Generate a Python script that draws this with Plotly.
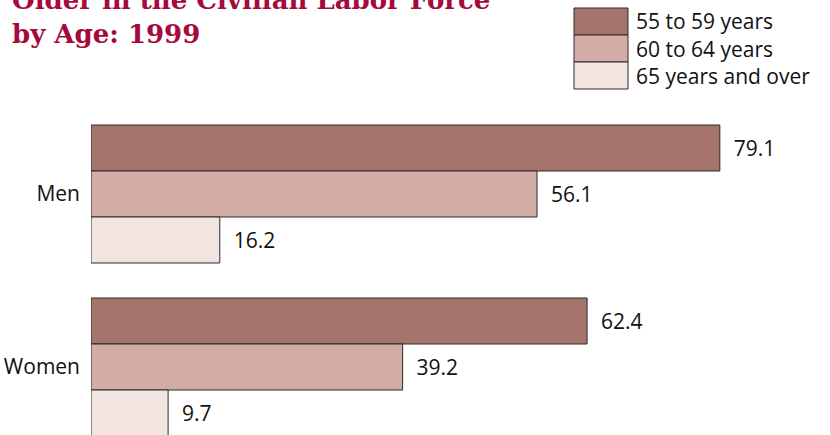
import plotly.graph_objects as go

categories = ["Men", "Women"]
series_names = ["55 to 59 years", "60 to 64 years", "65 years and over"]
values_55_59 = [79.1, 62.4]
values_60_64 = [56.1, 39.2]
values_65_over = [16.2, 9.7]
colors = ["#A5756B", "#D3ADA5", "#F2E4E1"]
title_lines = ["Older in the Civilian Labor Force", "by Age: 1999"]

W, H = 830, 435
ML, MR, MT, MB = 91, 0, 100, 0
PW, PH = W - ML - MR, H - MT - MB
FONT = "Open Sans"
FS = 21

def px_x(p):
    return (p - ML) / PW

def px_y(p):
    return (H - MB - p) / PH

NB = "\u00a0"
series = [values_55_59, values_60_64, values_65_over]
fig = go.Figure()
for name, vals, col in zip(series_names, series, colors):
    fig.add_trace(go.Bar(
        y=categories, x=vals, name=name, orientation="h",
        marker=dict(color=col, line=dict(color="#2a2a2a", width=1)),
        text=[NB * 2 + f"{v:.1f}" for v in vals],
        textposition="outside",
        textfont=dict(family=FONT, size=FS, color="#111"),
        cliponaxis=False,
        showlegend=False,
    ))

# legend drawn as boxes + labels
box_top = 8
box_h = 27
for i, (name, col) in enumerate(zip(series_names, colors)):
    y0 = box_top + i * box_h
    fig.add_shape(type="rect", xref="paper", yref="paper",
                  x0=px_x(574), x1=px_x(628), y0=px_y(y0), y1=px_y(y0 + box_h),
                  fillcolor=col, line=dict(color="#2a2a2a", width=1))
    fig.add_annotation(xref="paper", yref="paper", x=px_x(634), y=px_y(y0 + box_h / 2),
                       xanchor="left", yanchor="middle", text=name, showarrow=False,
                       font=dict(family=FONT, size=FS, color="#111"))

fig.add_annotation(xref="paper", yref="paper", x=px_x(10), y=px_y(51),
                   xanchor="left", yanchor="bottom", align="left",
                   text="<b>" + "<br>".join(title_lines) + "</b>", showarrow=False,
                   font=dict(family="DejaVu Serif", size=26, color="#A6093D"))

fig.update_layout(
    width=W, height=H,
    margin=dict(l=ML, r=MR, t=MT, b=MB, pad=0),
    barmode="group", bargap=0.2023, bargroupgap=0,
    plot_bgcolor="white", paper_bgcolor="white",
    hovermode=False,
    xaxis=dict(range=[0, PW / 7.95], visible=False, fixedrange=True),
    yaxis=dict(range=[(H - 194) / 173, (MT - 194) / 173], showgrid=False, zeroline=False,
               showline=False, ticks="", ticklabelstandoff=10, fixedrange=True,
               tickfont=dict(family=FONT, size=FS, color="#111")),
)
fig.write_html("out.html", config={"displayModeBar": False},
               post_script="document.body.style.margin='0';")
